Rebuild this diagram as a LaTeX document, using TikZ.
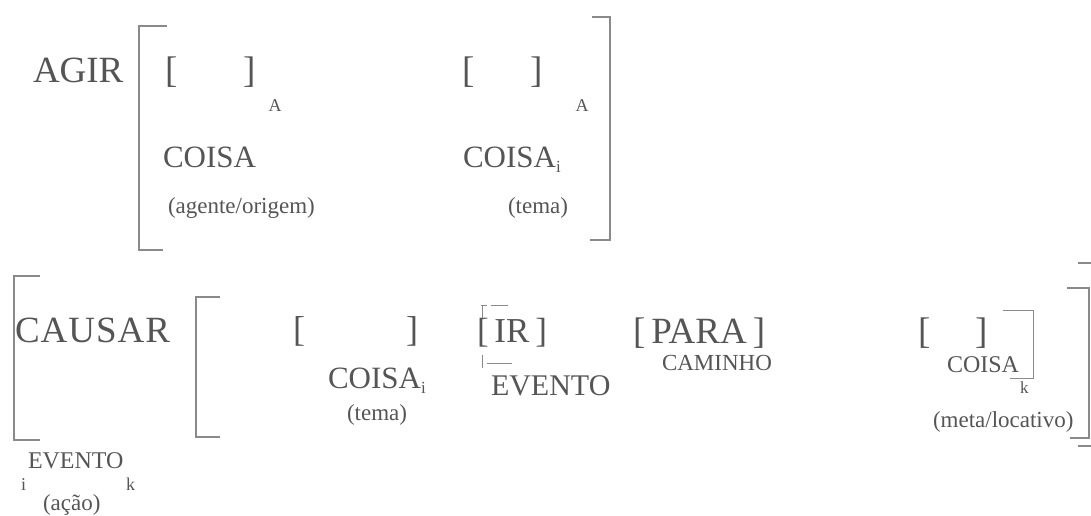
\documentclass[tikz,border=0pt]{standalone}
\usepackage{fontspec}
\setmainfont{Liberation Serif}
\definecolor{tgray}{HTML}{555555}
\definecolor{lgray}{HTML}{8A8A8A}
\newcommand{\fsz}[1]{\fontsize{#1}{#1}\selectfont}
\begin{document}
\begin{tikzpicture}[x=1pt,y=-1pt,
  txt/.style={anchor=base west, inner sep=0pt, outer sep=0pt, text=tgray},
  ctr/.style={anchor=base, inner sep=0pt, outer sep=0pt, text=tgray},
  big/.style={font=\fsz{37}},
  mid/.style={font=\fsz{31}},
  sml/.style={font=\fsz{23}},
  tiny/.style={font=\fsz{18}},
  brk/.style={draw=lgray, line width=1.1pt},
  thin/.style={draw=lgray, line width=0.8pt}]
\useasboundingbox[fill=white] (0,0) rectangle (1091,516);

% ---------- Row 1 ----------
\node[txt,big] (agir) at (33,83) {AGIR};
\draw[brk] (167,26) -- (139,26) -- (139,250) -- (163,250);
\node[txt,big] (lb1) at (165,83) {[};
\node[txt,big] (rb1) at (243,83) {]};
\node[ctr,tiny] (a1) at (275,111) {A};
\node[txt,mid] (coisa1) at (163,167) {COISA};
\node[txt,sml] (agente) at (168,213) {(agente/origem)};

\node[txt,big] (lb2) at (462,83) {[};
\node[txt,big] (rb2) at (530,83) {]};
\node[ctr,tiny] (a2) at (582,111) {A};
\node[txt,mid] (coisa2) at (463,167) {COISA\raisebox{-5pt}{\fsz{17}i}};
\node[txt,sml] (tema1) at (508,213) {(tema)};
\draw[brk] (592,17) -- (610,17) -- (610,240) -- (590,240);

% ---------- Row 2 ----------
\draw[brk] (40,276) -- (14,276) -- (14,440) -- (40,440);
\node[txt,font=\fsz{37}] (causar) at (15,342) {C\kern1ptA\kern1ptU\kern1ptS\kern1ptA\kern1ptR};
\node[txt,font=\fsz{24}] (evento1) at (28,468) {EVENTO};
\node[txt,font=\fsz{18}] (i1) at (21,490) {i};
\node[txt,font=\fsz{18}] (k1) at (126,490) {k};
\node[txt,sml] (acao) at (43,510) {(ação)};

\draw[brk] (220,297) -- (196,297) -- (196,437) -- (220,437);
\node[txt,font=\fsz{36}] (lb3) at (293,341) {[};
\node[txt,font=\fsz{36}] (rb3) at (406,341) {]};
\node[txt,mid] (coisa3) at (328,388) {COISA\raisebox{-5pt}{\fsz{17}i}};
\node[txt,sml] (tema2) at (347,420) {(tema)};

\node[txt,font=\fsz{35}] (ir) at (477,342) {[\,IR\,]};
\draw[thin] (481,305) -- (487,305);
\draw[thin] (491,305) -- (508,305);
\draw[thin] (482,305) -- (482,318);
\draw[thin] (482,355) -- (482,368);
\draw[thin] (487,363) -- (512,363);
\node[txt,font=\fsz{30}] (evento2) at (491,395) {EVENTO};

\node[txt,big] (para) at (633,343) {[\,PARA\,]};
\node[txt,sml] (caminho) at (662,370) {CAMINHO};

\node[txt,big] (lb4) at (918,343) {[};
\node[txt,big] (rb4) at (975,343) {]};
\node[txt,font=\fsz{24}] (coisa4) at (947,372) {COISA};
\draw[thin] (1003,310) -- (1033,310) -- (1033,378) -- (1010,378);
\node[txt,font=\fsz{17}] (k2) at (1020,393) {k};
\node[txt,sml] (meta) at (933,427) {(meta/locativo)};

\draw[brk] (1078,263) -- (1091,263);
\draw[brk] (1067,288) -- (1089,288) -- (1089,438) -- (1070,438);
\draw[brk] (1078,446) -- (1091,446);
\end{tikzpicture}
\end{document}
